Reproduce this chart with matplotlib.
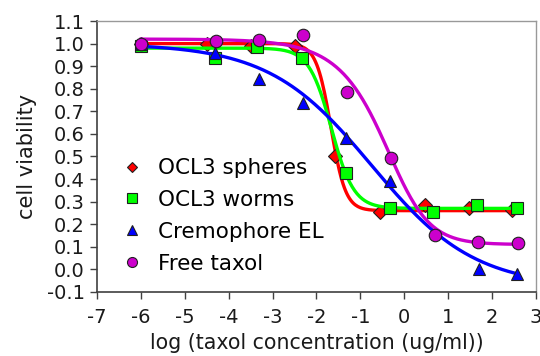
import numpy as np
import matplotlib
matplotlib.use("Agg")
import matplotlib.pyplot as plt

plt.rcParams["font.family"] = ["DejaVu Sans"]
plt.rcParams["axes.unicode_minus"] = False

# Points
sph_x = [-6.0, -4.5, -3.5, -2.5, -1.58, -0.55, 0.47, 1.47, 2.45]
sph_y = [1.0, 1.0, 0.99, 0.99, 0.50, 0.255, 0.285, 0.27, 0.265]

worm_x = [-6.0, -4.32, -3.35, -2.34, -1.32, -0.33, 0.65, 1.67, 2.57]
worm_y = [0.99, 0.935, 0.985, 0.935, 0.425, 0.27, 0.255, 0.285, 0.27]

crem_x = [-6.0, -4.32, -3.32, -2.31, -1.32, -0.33, 1.7, 2.58]
crem_y = [1.0, 0.96, 0.845, 0.735, 0.58, 0.39, 0.0, -0.02]

free_x = [-6.0, -4.28, -3.3, -2.31, -1.3, -0.3, 0.7, 1.68, 2.59]
free_y = [1.0, 1.01, 1.015, 1.04, 0.787, 0.493, 0.153, 0.12, 0.115]

# Parametres des courbes (top, bottom, logEC50, hill, asymetrie)
sph_fit = (1.0, 0.26, -1.67, 2.6, 1.0)
worm_fit = (0.98, 0.27, -1.66, 1.7, 1.0)
crem_fit = (1.0, -0.08, -0.74, 0.37, 1.0)
free_fit = (1.02, 0.11, -0.12, 1.0, 0.6)

labels = ["OCL3 spheres", "OCL3 worms", "Cremophore EL", "Free taxol"]
colors = ["#ff0000", "#00ff00", "#0000ff", "#cc00cc"]
markers = ["D", "s", "^", "o"]
sizes = [7, 8.5, 8.5, 9]


def sigmoid(x, p):
    top, bottom, c, h, s = p
    g = 1 / (1 + 10 ** (-(x - c) * h))
    return top - (top - bottom) * g ** s


fig = plt.figure(figsize=(5.4, 3.56), dpi=100)
ax = fig.add_axes([0.18, 0.18, 0.812, 0.761])

series = [(sph_x, sph_y, sph_fit), (worm_x, worm_y, worm_fit),
          (crem_x, crem_y, crem_fit), (free_x, free_y, free_fit)]

for i, (xs, ys, fit) in enumerate(series):
    xx = np.linspace(min(xs), max(xs), 300)
    ax.plot(xx, sigmoid(xx, fit), color=colors[i], lw=2.4, zorder=2 + i)
    ax.plot(xs, ys, ls="none", marker=markers[i], ms=sizes[i],
            mfc=colors[i], mec="#202020", mew=0.8, zorder=2 + i,
            label=labels[i])

ax.set_xlim(-7, 3)
ax.set_ylim(-0.1, 1.1)
ax.set_xticks(range(-7, 4))
yt = np.round(np.arange(-0.1, 1.15, 0.1), 1)
ax.set_yticks(yt)
ax.set_yticklabels(["%.1f" % v for v in yt])

for s in ["left", "bottom"]:
    ax.spines[s].set_color("#404040")
    ax.spines[s].set_linewidth(1.2)
for s in ["top", "right"]:
    ax.spines[s].set_color("#999999")
    ax.spines[s].set_linewidth(1.0)

ax.tick_params(direction="out", length=5, width=1.0, colors="#404040",
               labelcolor="#1a1a1a", labelsize=14)
ax.tick_params(axis="x", pad=6.5)
ax.tick_params(axis="y", pad=4)

ax.set_xlabel("log (taxol concentration (ug/ml))", fontsize=14.8, color="#1a1a1a", labelpad=4.5)
ax.set_ylabel("cell viability", fontsize=15, color="#1a1a1a", labelpad=7)

leg = ax.legend(loc="lower left", bbox_to_anchor=(0.009, 0.012), frameon=False,
                fontsize=15.5, handletextpad=0.45, labelspacing=0.55,
                markerscale=0.8, borderaxespad=0.3, handlelength=1.5)

fig.savefig("out.png", dpi=100)
